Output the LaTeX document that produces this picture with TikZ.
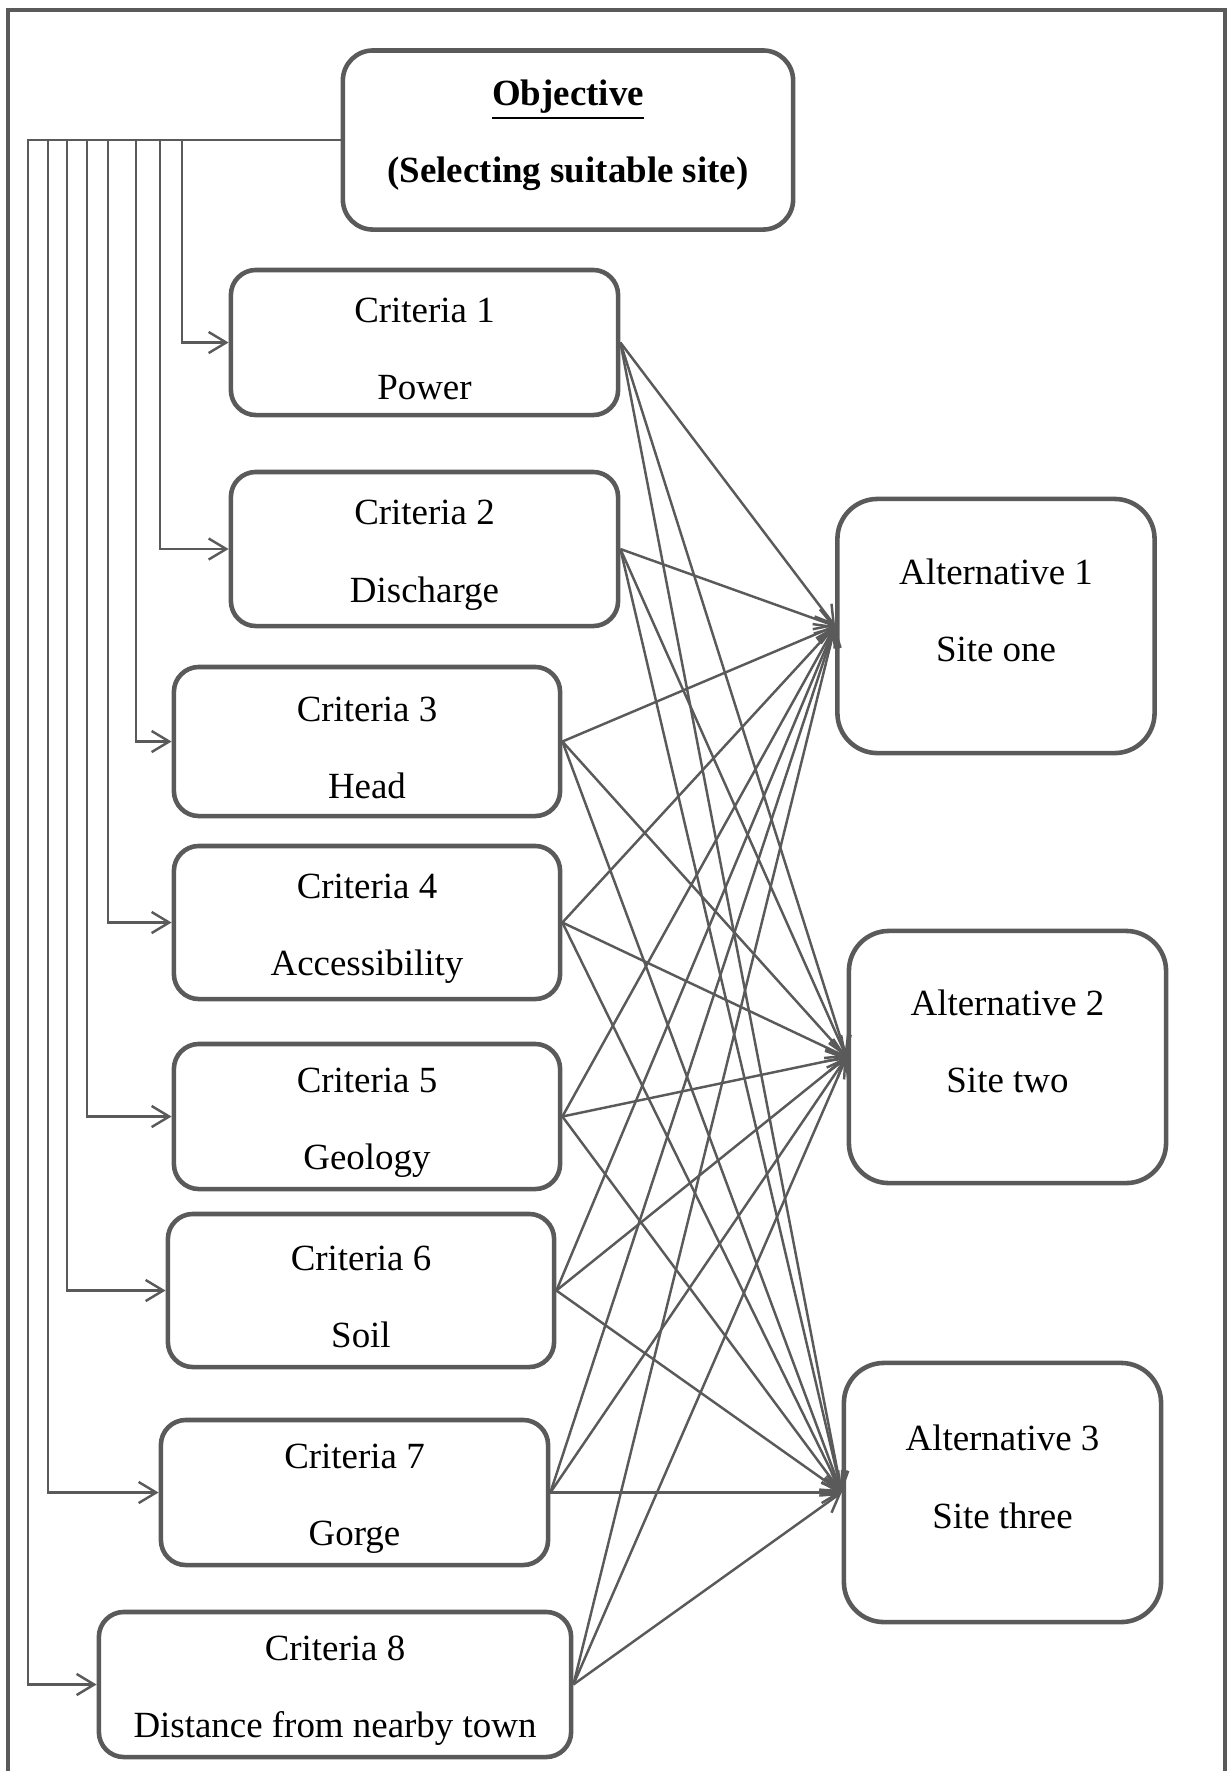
\documentclass[tikz,border=0pt]{standalone}
\usepackage{fontspec}
\setmainfont{Liberation Serif}
\usetikzlibrary{arrows.meta}
\definecolor{ink}{HTML}{000000}
\definecolor{edge}{HTML}{5A5A5A}
\tikzset{
  basebox/.style={draw=edge,fill=white,line width=1.3pt,align=center,text=ink,font=\fontsize{10.5}{22}\selectfont,inner sep=0pt},
  critbox/.style={basebox,rounded corners=0.25cm,minimum width=3.87cm,minimum height=1.45cm,text height=1.14cm},
  altbox/.style={basebox,rounded corners=0.4cm,minimum width=3.17cm,minimum height=2.54cm,text depth=0.32cm},
  goalbox/.style={basebox,rounded corners=0.3cm,minimum width=4.5cm,minimum height=1.79cm,text depth=0.18cm,font=\fontsize{10.5}{22}\selectfont\bfseries},
  feed/.style={-{Straight Barb[length=5pt,width=6pt]},line width=0.7pt,draw=edge},
  link/.style={-{Straight Barb[length=5pt,width=6pt]},line width=0.7pt,draw=edge},
  frame/.style={line width=1pt,draw=edge}
}
\begin{document}
\begin{tikzpicture}[x=0.01cm,y=-0.01cm]
  \useasboundingbox (0,0) rectangle (1227,1771);
  \draw[frame] (8,1771) |- (1225,10) -- (1225,1771);
  \node[goalbox] (obj) at (568,140) {\underline{Objective}\\(Selecting suitable site)};
  \node[critbox] (c1) at (424.5,342.5) {Criteria 1\\Power};
  \node[critbox,minimum height=1.54cm] (c2) at (424.5,549) {Criteria 2\\Discharge};
  \node[critbox,minimum width=3.86cm,minimum height=1.49cm] (c3) at (367,741.5) {Criteria 3\\Head};
  \node[critbox,minimum width=3.86cm,minimum height=1.53cm] (c4) at (367,922.5) {Criteria 4\\Accessibility};
  \node[critbox,minimum width=3.86cm] (c5) at (367,1116.5) {Criteria 5\\Geology};
  \node[critbox,minimum width=3.86cm,minimum height=1.53cm] (c6) at (361,1290.5) {Criteria 6\\Soil};
  \node[critbox] (c7) at (354.5,1492.5) {Criteria 7\\Gorge};
  \node[critbox,minimum width=4.72cm] (c8) at (335,1684.5) {Criteria 8\\Distance from nearby town};
  \node[altbox] (a1) at (996,626) {Alternative 1\\Site one};
  \node[altbox,minimum height=2.52cm] (a2) at (1007.5,1057) {Alternative 2\\Site two};
  \node[altbox,minimum height=2.59cm] (a3) at (1002.5,1492.5) {Alternative 3\\Site three};
  \foreach \c/\x in {c1/182,c2/160,c3/136,c4/108,c5/87,c6/67,c7/48,c8/28}
    \draw[feed] (obj.west) -| (\x,0 |- \c.west) -- (\c.west);
  \foreach \c in {c1,c2,c3,c4,c5,c6,c7,c8}
    \foreach \a in {a1,a2,a3}
      \draw[link] (\c.east) -- (\a.west);
\end{tikzpicture}
\end{document}
